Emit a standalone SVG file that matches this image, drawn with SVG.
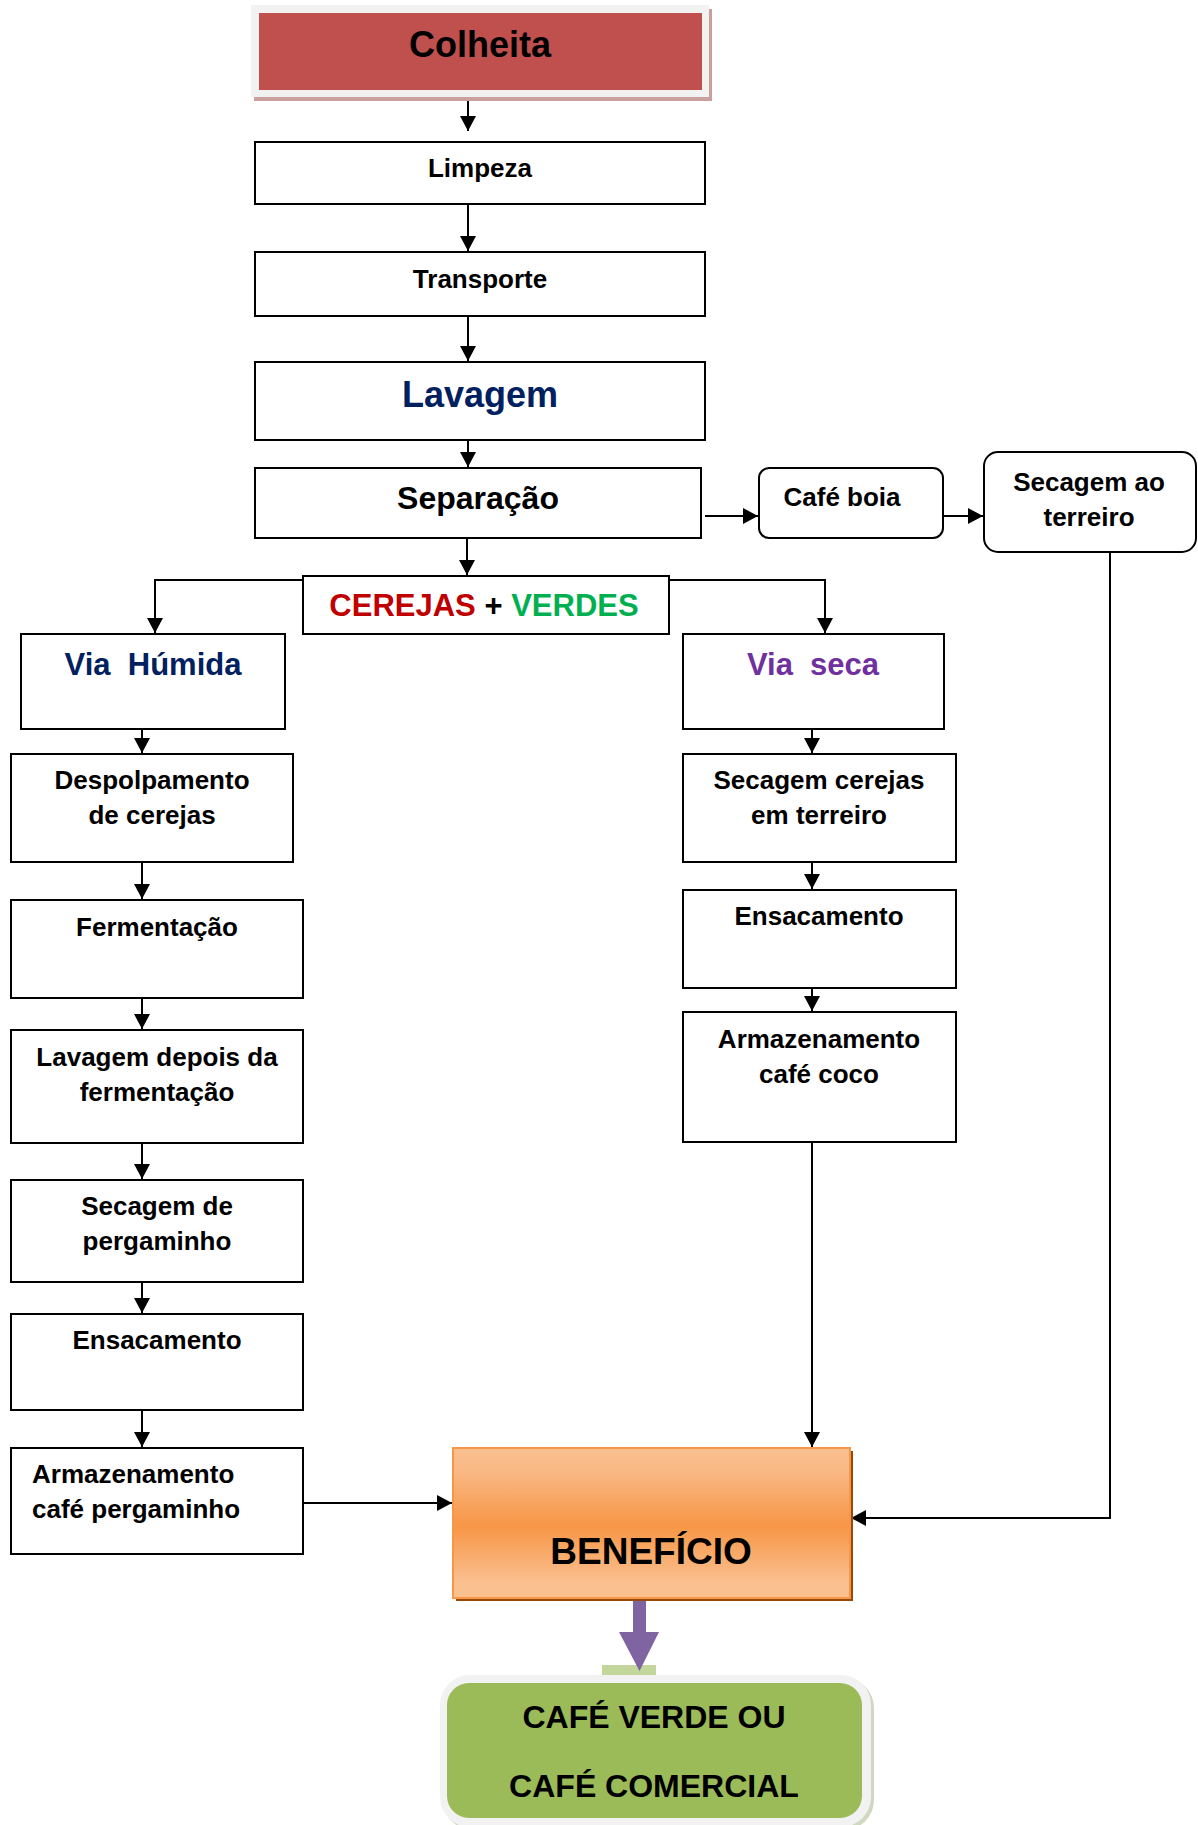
<svg xmlns="http://www.w3.org/2000/svg" width="1198" height="1825" viewBox="0 0 1198 1825">
<defs>
<style>
.box{fill:#fff;stroke:#000;stroke-width:2}
.t{font-family:"Liberation Sans",Arial,sans-serif;font-weight:bold;fill:#000}
.s26{font-size:26px}
.c{text-anchor:middle}
.ln{fill:none;stroke:#000;stroke-width:2}
</style>
<marker id="ah" markerUnits="userSpaceOnUse" markerWidth="16" markerHeight="16" refX="15" refY="8" orient="auto">
<path d="M0,0 L15,8 L0,16 Z" fill="#000"/>
</marker>
<linearGradient id="og" x1="0" y1="0" x2="0" y2="1">
<stop offset="0" stop-color="#FAC090"/>
<stop offset="0.15" stop-color="#F9B985"/>
<stop offset="0.52" stop-color="#F79646"/>
<stop offset="0.9" stop-color="#FAC090"/>
<stop offset="1" stop-color="#FAC090"/>
</linearGradient>
</defs>

<g id="connectors">
<path class="ln" d="M468,97 V131" marker-end="url(#ah)"/>
<path class="ln" d="M468,204 V251" marker-end="url(#ah)"/>
<path class="ln" d="M468,316 V361" marker-end="url(#ah)"/>
<path class="ln" d="M468,440 V467" marker-end="url(#ah)"/>
<path class="ln" d="M467,538 V575" marker-end="url(#ah)"/>
<path class="ln" d="M705,516 H758" marker-end="url(#ah)"/>
<path class="ln" d="M943,516 H983" marker-end="url(#ah)"/>
<path class="ln" d="M303,580 H155 V633" marker-end="url(#ah)"/>
<path class="ln" d="M669,580 H825 V633" marker-end="url(#ah)"/>
<path class="ln" d="M142,729 V753" marker-end="url(#ah)"/>
<path class="ln" d="M142,862 V899" marker-end="url(#ah)"/>
<path class="ln" d="M142,998 V1029" marker-end="url(#ah)"/>
<path class="ln" d="M142,1143 V1179" marker-end="url(#ah)"/>
<path class="ln" d="M142,1282 V1313" marker-end="url(#ah)"/>
<path class="ln" d="M142,1410 V1447" marker-end="url(#ah)"/>
<path class="ln" d="M303,1503 H452" marker-end="url(#ah)"/>
<path class="ln" d="M812,729 V753" marker-end="url(#ah)"/>
<path class="ln" d="M812,862 V889" marker-end="url(#ah)"/>
<path class="ln" d="M812,988 V1011" marker-end="url(#ah)"/>
<path class="ln" d="M812,1142 V1447" marker-end="url(#ah)"/>
<path class="ln" d="M1110,552 V1518 H851" marker-end="url(#ah)"/>
<rect x="602" y="1665" width="54" height="10" fill="#C3D69B"/>
<path d="M633,1598 H646 V1632 H659 L639.5,1671 L619,1632 H633 Z" fill="#8064A2"/>
</g>

<g id="colheita">
<rect x="254" y="9" width="458" height="92" fill="#C9A09F"/>
<rect x="251" y="5" width="458" height="92" fill="#F2F2F2"/>
<rect x="259" y="13" width="443" height="77" fill="#C0504D"/>
<text class="t c" x="480" y="57" font-size="36">Colheita</text>
</g>

<g id="limpeza">
<rect class="box" x="255" y="142" width="450" height="62"/>
<text class="t c s26" x="480" y="177">Limpeza</text>
</g>

<g id="transporte">
<rect class="box" x="255" y="252" width="450" height="64"/>
<text class="t c s26" x="480" y="288">Transporte</text>
</g>

<g id="lavagem">
<rect class="box" x="255" y="362" width="450" height="78"/>
<text class="t c" x="480" y="407" font-size="36" style="fill:#002060">Lavagem</text>
</g>

<g id="separacao">
<rect class="box" x="255" y="468" width="446" height="70"/>
<text class="t c" x="478" y="509" font-size="32">Separação</text>
</g>

<g id="cafe-boia">
<rect class="box" x="759" y="468" width="184" height="70" rx="10"/>
<text class="t c s26" x="842" y="506">Café boia</text>
</g>

<g id="secagem-terreiro">
<rect class="box" x="984" y="452" width="212" height="100" rx="14"/>
<text class="t c s26" x="1089" y="491">Secagem ao</text>
<text class="t c s26" x="1089" y="526">terreiro</text>
</g>

<g id="cerejas-verdes">
<rect class="box" x="303" y="576" width="366" height="58"/>
<text class="t c" x="484" y="616" font-size="31"><tspan style="fill:#C00000">CEREJAS</tspan> + <tspan style="fill:#00B050">VERDES</tspan></text>
</g>

<g id="via-humida">
<rect class="box" x="21" y="634" width="264" height="95"/>
<text class="t c" x="153" y="675" font-size="31" xml:space="preserve" style="fill:#002060;white-space:pre">Via  Húmida</text>
</g>

<g id="despolpamento">
<rect class="box" x="11" y="754" width="282" height="108"/>
<text class="t c s26" x="152" y="789">Despolpamento</text>
<text class="t c s26" x="152" y="824">de cerejas</text>
</g>

<g id="fermentacao">
<rect class="box" x="11" y="900" width="292" height="98"/>
<text class="t c s26" x="157" y="936">Fermentação</text>
</g>

<g id="lavagem-depois">
<rect class="box" x="11" y="1030" width="292" height="113"/>
<text class="t c s26" x="157" y="1066">Lavagem depois da</text>
<text class="t c s26" x="157" y="1101">fermentação</text>
</g>

<g id="secagem-pergaminho">
<rect class="box" x="11" y="1180" width="292" height="102"/>
<text class="t c s26" x="157" y="1215">Secagem de</text>
<text class="t c s26" x="157" y="1250">pergaminho</text>
</g>

<g id="ensacamento-1">
<rect class="box" x="11" y="1314" width="292" height="96"/>
<text class="t c s26" x="157" y="1349">Ensacamento</text>
</g>

<g id="armazenamento-pergaminho">
<rect class="box" x="11" y="1448" width="292" height="106"/>
<text class="t s26" x="32" y="1483">Armazenamento</text>
<text class="t s26" x="32" y="1518">café pergaminho</text>
</g>

<g id="via-seca">
<rect class="box" x="683" y="634" width="261" height="95"/>
<text class="t c" x="813" y="675" font-size="31" xml:space="preserve" style="fill:#7030A0;white-space:pre">Via  seca</text>
</g>

<g id="secagem-cerejas">
<rect class="box" x="683" y="754" width="273" height="108"/>
<text class="t c s26" x="819" y="789">Secagem cerejas</text>
<text class="t c s26" x="819" y="824">em terreiro</text>
</g>

<g id="ensacamento-2">
<rect class="box" x="683" y="890" width="273" height="98"/>
<text class="t c s26" x="819" y="925">Ensacamento</text>
</g>

<g id="armazenamento-coco">
<rect class="box" x="683" y="1012" width="273" height="130"/>
<text class="t c s26" x="819" y="1048">Armazenamento</text>
<text class="t c s26" x="819" y="1083">café coco</text>
</g>

<g id="beneficio">
<rect x="456" y="1451" width="397" height="150" fill="#984807"/>
<rect x="453" y="1448" width="397" height="150" fill="url(#og)" stroke="#F79646" stroke-width="2"/>
<text class="t c" x="651" y="1564" font-size="37">BENEFÍCIO</text>
</g>

<g id="cafe-verde">
<rect x="443" y="1678" width="431" height="152" rx="30" fill="#D0D8C0"/>
<rect x="440" y="1675" width="431" height="152" rx="30" fill="#F2F2F2"/>
<rect x="447" y="1683" width="415" height="135" rx="22" fill="#9BBB59"/>
<text class="t c" x="654" y="1728" font-size="32">CAFÉ VERDE OU</text>
<text class="t c" x="654" y="1797" font-size="32">CAFÉ COMERCIAL</text>
</g>
</svg>
